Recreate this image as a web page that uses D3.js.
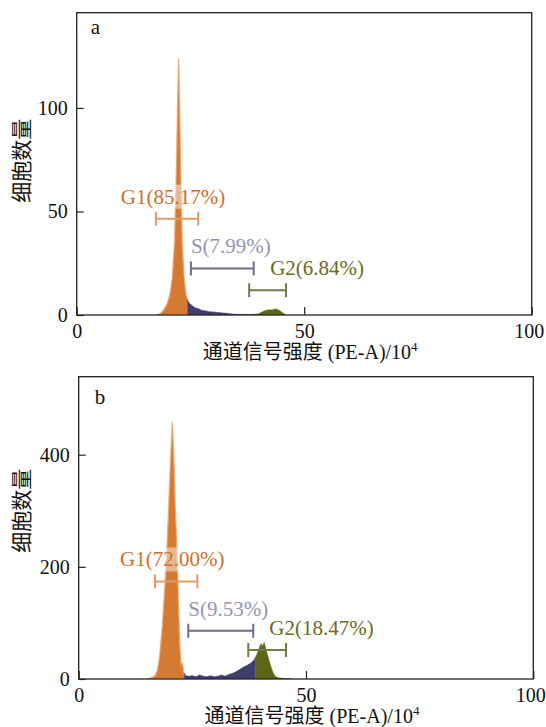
<!DOCTYPE html>
<html>
<head>
<meta charset="utf-8">
<script src="https://cdn.jsdelivr.net/npm/d3@7"></script>
<style>
  body { margin: 0; background: #fff; }
  svg text { font-family: "Liberation Serif", "DejaVu Serif", "Noto Sans CJK SC", serif; }
</style>
</head>
<body>
<div id="chart"></div>
<script>
(function () {

  // shared axis stuff
  var xTicks = [0, 50, 100];
  var xTitle = "通道信号强度 (PE-A)/10";
  var xTitleSup = "4";
  var yTitle = "细胞数量";
  var gateKeys = ["G1", "S", "G2"];

  // panel a
  var yTicksA = [0, 50, 100];
  var yMaxA = 146;
  var histXA = [17.5, 18.3, 19, 19.8, 20.5, 21, 21.5, 21.9, 22.2, 22.4, 22.6, 22.9, 23.2, 23.6, 24, 24.4,
                24.8, 25.4, 26, 26.8, 27.5, 28.3, 29, 30, 31, 32, 33, 34, 35, 36, 37, 38, 39, 40,
                40.8, 41.5, 42.3, 43, 43.6, 44.2, 44.8, 45.4, 46];
  var histYA = [0, 0.5, 2, 5, 10, 18, 35, 70, 105, 124, 105, 65, 35, 18, 10, 7,
                5.5, 4.5, 3.5, 3, 2.2, 2, 1.6, 1.5, 1.2, 1, 0.8, 0.5, 0.3, 0.3, 0.2, 0.2, 0.3, 0.6,
                1.5, 2.2, 2.5, 2.4, 2.9, 2.7, 1.8, 0.8, 0];
  var breaksA = [24.3, 39.0];
  var gateLabelsA = ["G1(85.17%)", "S(7.99%)", "G2(6.84%)"];
  var gateFromA = [17.4, 25.1, 37.9];
  var gateToA = [26.7, 38.9, 46.0];
  var gateLevelA = [46.5, 22.5, 12];

  // panel b
  var yTicksB = [0, 200, 400];
  var yMaxB = 539;
  var histXB = [14.8, 15.5, 16.2, 16.8, 17.3, 17.8, 18.4, 19, 19.5, 19.9, 20.3, 20.6, 20.9, 21.2, 21.6,
                21.9, 22.2, 22.5, 22.8, 23.1, 23.5, 24.2, 25, 25.8, 26.6, 27.4, 28.2, 29, 29.8, 30.6,
                31.4, 32.2, 33, 33.8, 34.6, 35.4, 36.2, 37, 37.8, 38.5, 39.2, 39.7, 40.1, 40.4, 40.8,
                41.2, 41.7, 42.2, 42.7, 43.2, 44, 45, 46, 47];
  var histYB = [0, 1, 3, 6, 15, 40, 95, 170, 250, 330, 410, 458, 400, 320, 230,
                150, 70, 25, 28, 12, 6, 5, 6, 4, 7, 5, 4, 6, 4, 5,
                7, 5, 8, 10, 13, 17, 21, 24, 28, 33, 44, 55, 63, 58, 65,
                52, 38, 24, 12, 5, 2, 1, 0.5, 0];
  var breaksB = [23.2, 38.8];
  var gateLabelsB = ["G1(72.00%)", "S(9.53%)", "G2(18.47%)"];
  var gateFromB = [16.8, 24.1, 37.3];
  var gateToB = [26.1, 38.4, 45.6];
  var gateLevelB = [174, 86, 51.7];

  var fillColor = { G1: "#d47a33", S: "#3f3d6e", G2: "#5f6716" };
  var barColor = { G1: "#e39a68", S: "#6c6c92", G2: "#6f7d4a" };
  var textColor = { G1: "#cf6f2a", S: "#9494b4", G2: "#6b6a25" };
  var textShift = { G1: -35, S: 0, G2: 21 };

  var svg = d3.select("#chart")
    .append("svg")
    .attr("width", 546)
    .attr("height", 727);

  function drawPanel(p) {
    var width = p.width, height = p.height;
    var g = svg.append("g")
      .attr("transform", "translate(" + p.left + "," + p.top + ")");

    var xPositionScale = d3.scaleLinear().domain([0, 100]).range([0, width]);
    var yPositionScale = d3.scaleLinear().domain([0, p.yMax]).range([height, 0]);

    var points = p.histX.map(function (x, i) { return [x, p.histY[i]]; });

    var area = d3.area()
      .x(function (d) { return xPositionScale(d[0]); })
      .y0(height)
      .y1(function (d) { return yPositionScale(d[1]); });

    // colour the one histogram by gate region
    var edges = [0].concat(p.breaks).concat([100]);
    gateKeys.forEach(function (key, i) {
      var id = "clip-" + p.name + "-" + key;
      g.append("clipPath").attr("id", id)
        .append("rect")
        .attr("x", xPositionScale(edges[i]))
        .attr("width", xPositionScale(edges[i + 1]) - xPositionScale(edges[i]))
        .attr("y", -5)
        .attr("height", height + 5);
      g.append("path")
        .datum(points)
        .attr("clip-path", "url(#" + id + ")")
        .attr("d", area)
        .attr("fill", fillColor[key])
        .attr("stroke", key === "G1" ? "#eaa877" : fillColor[key])
        .attr("stroke-width", key === "G1" ? 1.4 : 0.8)
        .attr("stroke-opacity", 0.8);
    });

    // gate markers
    gateKeys.forEach(function (key, i) {
      var x0 = xPositionScale(p.gateFrom[i]),
          x1 = xPositionScale(p.gateTo[i]),
          y = yPositionScale(p.gateLevel[i]);
      var label = g.append("text")
        .attr("x", x0 + textShift[key])
        .attr("y", y - 15)
        .attr("fill", textColor[key])
        .style("font-size", "21px")
        .text(p.gateLabels[i]);
      // pale box behind the label, like the scan
      var bb = label.node().getBBox();
      g.insert("rect", function () { return label.node(); })
        .attr("x", bb.x - 2).attr("y", bb.y)
        .attr("width", bb.width + 4).attr("height", bb.height)
        .attr("fill", "#fff").attr("opacity", 0.45);
      var bar = g.append("g").attr("stroke", barColor[key]).attr("stroke-width", 2);
      bar.append("line").attr("x1", x0).attr("x2", x1).attr("y1", y).attr("y2", y);
      bar.append("line").attr("x1", x0).attr("x2", x0).attr("y1", y - 7).attr("y2", y + 7);
      bar.append("line").attr("x1", x1).attr("x2", x1).attr("y1", y - 7).attr("y2", y + 7);
    });

    // axes, ticks point inward
    var yAxis = d3.axisLeft(yPositionScale)
      .tickValues(p.yTicks)
      .tickSizeInner(-7)
      .tickSizeOuter(0)
      .tickPadding(9);
    var ya = g.append("g").attr("class", "axis y-axis").call(yAxis);

    var xAxis = d3.axisBottom(xPositionScale)
      .tickValues(xTicks)
      .tickSizeInner(-8)
      .tickSizeOuter(0)
      .tickPadding(9);
    var xa = g.append("g")
      .attr("class", "axis x-axis")
      .attr("transform", "translate(0," + height + ")")
      .call(xAxis);

    [ya, xa].forEach(function (a) {
      a.attr("font-family", null);
      a.select(".domain").remove();
      a.selectAll("line").attr("stroke", "#222").attr("stroke-width", 1.2);
      a.selectAll("text")
        .attr("fill", "#111")
        .style("font-size", "20px");
    });
    // last x label sits a bit left so it stays on the page
    xa.selectAll(".tick text").filter(function (d) { return d === 100; }).attr("dx", -3);

    // frame
    g.append("rect")
      .attr("width", width)
      .attr("height", height)
      .attr("fill", "none")
      .attr("stroke", "#222")
      .attr("stroke-width", 1.3);

    g.append("text")
      .attr("x", p.labelX)
      .attr("y", p.labelY)
      .style("font-size", "21px")
      .attr("fill", "#111")
      .text(p.name);

    var xt = g.append("text")
      .attr("x", width / 2 + 6)
      .attr("y", height + 44.5)
      .attr("text-anchor", "middle")
      .attr("fill", "#111")
      .style("font-size", "20px")
      .text(xTitle);
    xt.append("tspan")
      .attr("dy", "-8")
      .style("font-size", "13px")
      .text(xTitleSup);

    g.append("text")
      .attr("transform", "translate(" + (22 - p.left) + "," + p.titleY + ") rotate(-90)")
      .attr("text-anchor", "middle")
      .attr("dy", "0.35em")
      .attr("fill", "#111")
      .style("font-size", "21px")
      .text(yTitle);
  }

  drawPanel({
    name: "a", left: 76.7, top: 12.7, width: 455, height: 302.3,
    yMax: yMaxA, yTicks: yTicksA, histX: histXA, histY: histYA, breaks: breaksA,
    gateLabels: gateLabelsA, gateFrom: gateFromA, gateTo: gateToA, gateLevel: gateLevelA,
    labelX: 14, labelY: 21, titleY: 148
  });

  drawPanel({
    name: "b", left: 78.7, top: 376.7, width: 454.6, height: 302.3,
    yMax: yMaxB, yTicks: yTicksB, histX: histXB, histY: histYB, breaks: breaksB,
    gateLabels: gateLabelsB, gateFrom: gateFromB, gateTo: gateToB, gateLevel: gateLevelB,
    labelX: 16, labelY: 27, titleY: 134
  });

})()
</script>
</body>
</html>
